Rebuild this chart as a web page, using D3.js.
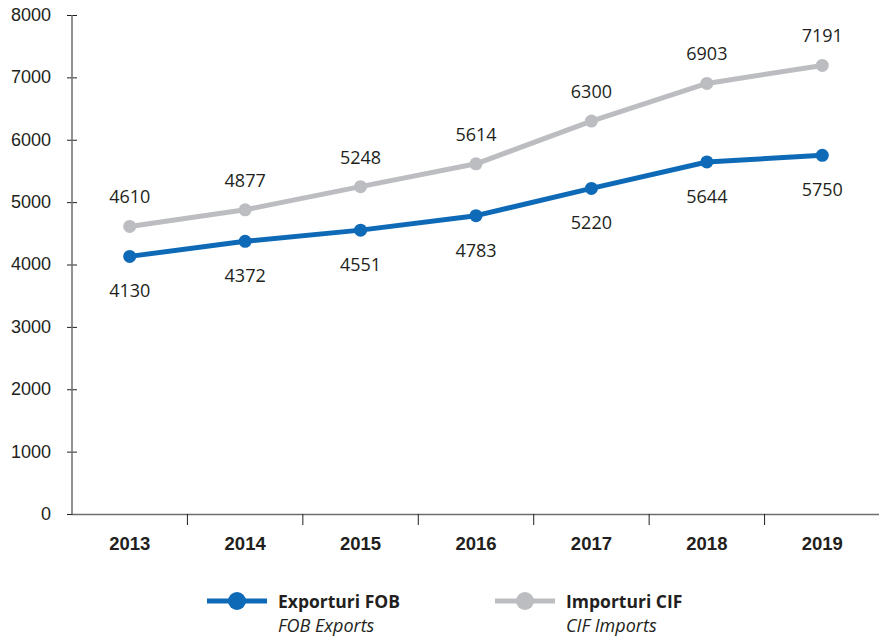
<!DOCTYPE html>
<html>
<head>
<meta charset="utf-8">
<script src="https://cdn.jsdelivr.net/npm/d3@7"></script>
<style>
  body { margin: 0; background: #fff; }
  svg { display: block; font-family: "Open Sans", "Noto Sans", sans-serif; }
  .tick text { fill: #231f20; }
</style>
</head>
<body>
<script>
// DATA

var years = ["2013", "2014", "2015", "2016", "2017", "2018", "2019"];
var exportsFob = [4130, 4372, 4551, 4783, 5220, 5644, 5750];
var importsCif = [4610, 4877, 5248, 5614, 6300, 6903, 7191];
var yTicks = [0, 1000, 2000, 3000, 4000, 5000, 6000, 7000, 8000];

// CHART STRUCTURE

var svgWidth = 879;
var svgHeight = 638;
var margin = {top: 15, right: 0, bottom: 124, left: 72};
var chartWidth = 808;
var chartHeight = svgHeight - margin.top - margin.bottom;

var blue = "#0e6ab6";
var grey = "#bcbdc0";
var axisColor = "#6d6e71";

var svg = d3.select("body")
  .append("svg")
  .attr("width", svgWidth)
  .attr("height", svgHeight);

var chartGroup = svg.append("g")
  .attr("transform", `translate(${margin.left}, ${margin.top})`);

// SCALES

var xScale = d3.scaleBand().domain(years).range([0, chartWidth]);
var yScale = d3.scaleLinear().domain([0, 8000]).range([chartHeight, 0]);

// Y AXIS

var yAxis = chartGroup.append("g")
  .call(d3.axisLeft(yScale).tickValues(yTicks).tickFormat(d3.format("d")).tickSize(5).tickPadding(16));
yAxis.select(".domain").remove();
yAxis.selectAll(".tick line").attr("x2", 5).attr("x1", -5).attr("stroke", "#231f20");
yAxis.selectAll(".tick text").attr("font-size", 18).attr("dy", "0.3em");
chartGroup.append("line")
  .attr("x1", 0).attr("x2", 0).attr("y1", 0).attr("y2", chartHeight)
  .attr("stroke", axisColor).attr("stroke-width", 1.5);

// X AXIS

var xAxis = chartGroup.append("g")
  .attr("transform", `translate(0, ${chartHeight})`)
  .call(d3.axisBottom(xScale).tickSize(0).tickPadding(23));
xAxis.select(".domain").attr("stroke", axisColor).attr("stroke-width", 1.5);
xAxis.selectAll(".tick text").attr("font-size", 18.5).attr("font-weight", "bold");

chartGroup.selectAll(".xsep")
  .data(years.slice(1))
  .enter()
  .append("line")
  .attr("x1", d => xScale(d))
  .attr("x2", d => xScale(d))
  .attr("y1", chartHeight)
  .attr("y2", chartHeight + 11)
  .attr("stroke", "#231f20")
  .attr("stroke-width", 1);

// LINES

var cx = i => xScale(years[i]) + xScale.bandwidth() / 2;
var line = d3.line().x((d, i) => cx(i)).y(d => yScale(d));

function drawSeries(values, color, labelDy) {
  chartGroup.append("path")
    .datum(values)
    .attr("d", line)
    .attr("fill", "none")
    .attr("stroke", color)
    .attr("stroke-width", 5)
    .attr("stroke-linejoin", "round");

  chartGroup.selectAll(null)
    .data(values)
    .enter()
    .append("circle")
    .attr("cx", (d, i) => cx(i))
    .attr("cy", d => yScale(d))
    .attr("r", 6.5)
    .attr("fill", color);

  chartGroup.selectAll(null)
    .data(values)
    .enter()
    .append("text")
    .attr("x", (d, i) => cx(i))
    .attr("y", d => yScale(d) + labelDy)
    .attr("text-anchor", "middle")
    .attr("font-size", 18)
    .attr("fill", "#231f20")
    .text(d => d);
}

drawSeries(importsCif, grey, -23);
drawSeries(exportsFob, blue, 41);

// LEGEND

var legendItems = [
  {x: 207, color: blue, title: "Exporturi FOB", sub: "FOB Exports"},
  {x: 495, color: grey, title: "Importuri CIF", sub: "CIF Imports"}
];

var legend = svg.selectAll(".legend")
  .data(legendItems)
  .enter()
  .append("g")
  .attr("transform", d => `translate(${d.x}, 601)`);

legend.append("line")
  .attr("x1", 0).attr("x2", 60)
  .attr("stroke", d => d.color).attr("stroke-width", 5);
legend.append("circle")
  .attr("cx", 30).attr("r", 9)
  .attr("fill", d => d.color);
legend.append("text")
  .attr("x", 71).attr("y", 7)
  .attr("font-size", 17.5).attr("font-weight", "bold").attr("fill", "#231f20")
  .text(d => d.title);
legend.append("text")
  .attr("x", 71).attr("y", 31)
  .attr("font-size", 18).attr("font-style", "italic").attr("fill", "#231f20")
  .text(d => d.sub);
</script>
</body>
</html>
